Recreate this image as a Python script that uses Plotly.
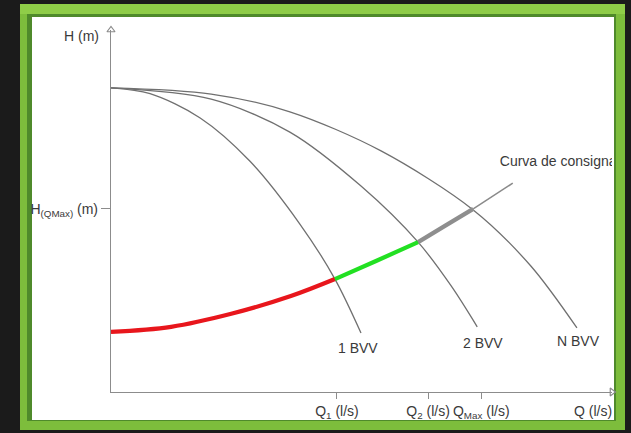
import plotly.graph_objects as go

# ---------------- data (schematic units) ----------------
q_1bvv = [0, 0.78, 1.78, 2.77, 3.77, 4.47, 4.99]
h_1bvv = [8.40, 8.24, 7.57, 6.38, 4.64, 3.12, 1.63]

q_2bvv = [0, 2.00, 3.57, 4.99, 6.13, 6.79, 7.31]
h_2bvv = [8.40, 8.09, 7.18, 5.69, 4.14, 2.93, 1.80]

q_nbvv = [0, 2.00, 3.57, 5.39, 7.23, 8.38, 9.30]
h_nbvv = [8.40, 8.23, 7.74, 6.66, 5.03, 3.48, 1.77]

q_red = [0, 1.20, 2.40, 3.59, 4.47]
h_red = [1.66, 1.80, 2.16, 2.65, 3.12]
q_green = [4.47, 5.29, 6.13]
h_green = [3.12, 3.62, 4.14]
q_gray = [6.13, 6.69, 7.23]
h_gray = [4.14, 4.61, 5.06]
q_thin = [7.23, 8.02]
h_thin = [5.06, 5.77]

x_tick_vals = [4.51, 6.33, 7.39]
x_tick_text = ["Q<sub>1</sub> (l/s)", "Q<sub>2</sub> (l/s)", "Q<sub>Max</sub> (l/s)"]
y_tick_vals = [5.06]
y_tick_text = ["H<sub>(QMax)</sub> (m)"]

curve_labels = ["1 BVV", "2 BVV", "N BVV"]
curve_label_q = [4.93, 7.43, 9.34]
curve_label_h = [1.22, 1.35, 1.41]

consigna_text = ["Curva de consigna"]
consigna_q = [7.76]
consigna_h = [6.33]

X_MAX, Y_MAX = 10, 10

# ---------------- layout constants (pixels) ----------------
W, H = 631, 433
ML, MR, MT, MB = 111, 19, 30, 41
PW, PH = W - ML - MR, H - MT - MB


def px(x):
    return (x - ML) / PW


def py(y):
    return (H - MB - y) / PH


FONT = "Liberation Sans, Arial, sans-serif"
FS = 14
TXT = "#3a3a3a"
CURVE = "#707070"
AXIS = "#8c8c8c"

fig = go.Figure()

for q, h in [(q_1bvv, h_1bvv), (q_2bvv, h_2bvv), (q_nbvv, h_nbvv)]:
    fig.add_trace(go.Scatter(x=q, y=h, mode="lines",
                             line=dict(color=CURVE, width=1.3, shape="spline", smoothing=0.9),
                             hoverinfo="skip", showlegend=False))

fig.add_trace(go.Scatter(x=q_thin, y=h_thin, mode="lines",
                         line=dict(color="#8a8a8a", width=1.5),
                         hoverinfo="skip", showlegend=False))
for q, h, c in [(q_red, h_red, "#e8161c"), (q_green, h_green, "#22e022"), (q_gray, h_gray, "#8e8e8e")]:
    fig.add_trace(go.Scatter(x=q, y=h, mode="lines",
                             line=dict(color=c, width=4.2, shape="spline"),
                             hoverinfo="skip", showlegend=False))

# clipped text of the set-point curve
fig.add_trace(go.Scatter(x=consigna_q, y=consigna_h, mode="text", text=consigna_text,
                         textposition="middle right",
                         textfont=dict(family=FONT, size=FS, color=TXT),
                         cliponaxis=True, hoverinfo="skip", showlegend=False))

# axis arrow heads
fig.add_trace(go.Scatter(x=[0], y=[Y_MAX], mode="markers",
                         marker=dict(symbol="triangle-up-open", size=7, color=AXIS, line=dict(width=1.2, color=AXIS)),
                         cliponaxis=False, hoverinfo="skip", showlegend=False))
fig.add_trace(go.Scatter(x=[X_MAX], y=[0], mode="markers",
                         marker=dict(symbol="triangle-right-open", size=7, color=AXIS, line=dict(width=1.2, color=AXIS)),
                         cliponaxis=False, hoverinfo="skip", showlegend=False))

annotations = []
for t, q, h in zip(curve_labels, curve_label_q, curve_label_h):
    annotations.append(dict(x=q, y=h, text=t, showarrow=False,
                            font=dict(family=FONT, size=FS, color=TXT)))
annotations.append(dict(x=X_MAX, y=0, text="Q (l/s)", showarrow=False, xanchor="right",
                        yanchor="top", yshift=-9, xshift=2,
                        font=dict(family=FONT, size=FS, color=TXT)))
annotations.append(dict(x=0, y=Y_MAX, text="H (m)", showarrow=False, xanchor="right",
                        yanchor="middle", xshift=-10, yshift=-6,
                        font=dict(family=FONT, size=FS, color=TXT)))

shapes = [
    dict(type="rect", xref="paper", yref="paper", layer="below",
         x0=px(20), x1=px(625), y0=py(430), y1=py(4),
         fillcolor="#7dbd3c", line=dict(width=0)),
    dict(type="rect", xref="paper", yref="paper", layer="below",
         x0=px(20), x1=px(625), y0=py(14), y1=py(4),
         fillcolor="#8fcd48", line=dict(width=0)),
    dict(type="rect", xref="paper", yref="paper", layer="below",
         x0=px(27), x1=px(616), y0=py(421), y1=py(14),
         fillcolor="#4f8a2b", line=dict(width=0)),
    dict(type="rect", xref="paper", yref="paper", layer="below",
         x0=px(32), x1=px(614), y0=py(420), y1=py(17),
         fillcolor="#ffffff", line=dict(width=0)),
]

fig.update_layout(
    width=W, height=H,
    margin=dict(l=ML, r=MR, t=MT, b=MB, pad=0),
    paper_bgcolor="#1b1b1b",
    plot_bgcolor="rgba(0,0,0,0)",
    showlegend=False,
    shapes=shapes,
    annotations=annotations,
    font=dict(family=FONT, size=FS, color=TXT),
    xaxis=dict(range=[0, X_MAX], showgrid=False, zeroline=False, showline=True,
               linecolor=AXIS, linewidth=1.3, ticks="outside", ticklen=6, tickwidth=1.2,
               tickcolor=AXIS, tickvals=x_tick_vals, ticktext=x_tick_text,
               tickfont=dict(family=FONT, size=FS, color=TXT), fixedrange=True),
    yaxis=dict(range=[0, Y_MAX], showgrid=False, zeroline=False, showline=True,
               linecolor=AXIS, linewidth=1.3, ticks="outside", ticklen=9, tickwidth=1.2,
               tickcolor=AXIS, tickvals=y_tick_vals, ticktext=y_tick_text,
               tickfont=dict(family=FONT, size=FS, color=TXT), fixedrange=True),
)

fig.write_html("out.html", config={"displayModeBar": False},
               post_script="document.body.style.margin='0';document.body.style.background='#1b1b1b';")
